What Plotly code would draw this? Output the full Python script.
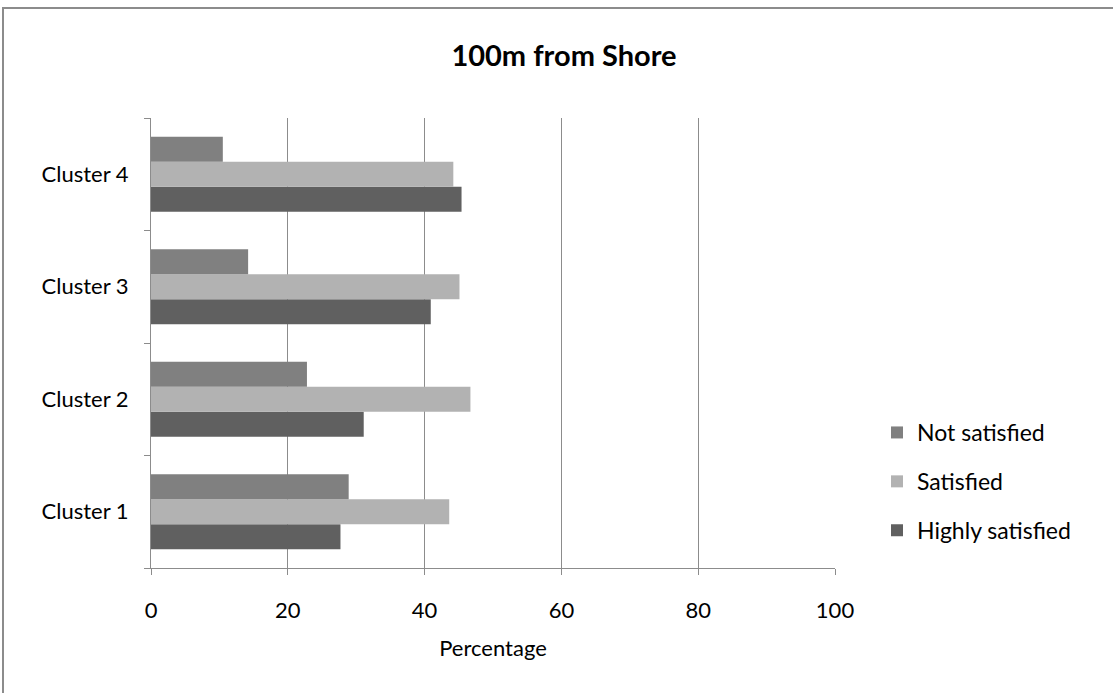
import plotly.graph_objects as go

# Survey response shares (%) by cluster, 100 m from shore
clusters = ["Cluster 1", "Cluster 2", "Cluster 3", "Cluster 4"]
highly_satisfied = [27.7, 31.1, 40.9, 45.4]
satisfied = [43.6, 46.7, 45.1, 44.2]
not_satisfied = [28.9, 22.8, 14.2, 10.5]

x_ticks = [0, 20, 40, 60, 80, 100]

# (name, values, colour, position in legend from top)
series = [
    ("Highly satisfied", highly_satisfied, "#606060", 3),
    ("Satisfied", satisfied, "#b2b2b2", 2),
    ("Not satisfied", not_satisfied, "#808080", 1),
]

FONT = "Lato, 'Open Sans', sans-serif"

fig = go.Figure()
for name, vals, color, rank in series:
    fig.add_trace(go.Bar(
        y=clusters, x=vals, name=name, orientation="h",
        marker=dict(color=color, line=dict(width=0)),
        legendgroup=name, legendrank=rank,
    ))

W, H = 1113, 693
L, R, T, B = 151, 278, 118, 125
pw, ph = W - L - R, H - T - B

def px_x(p):
    return (p - L) / pw

def px_y(p):
    return (H - B - p) / ph

fig.update_layout(
    width=W, height=H,
    margin=dict(l=L, r=R, t=T, b=B),
    paper_bgcolor="white", plot_bgcolor="white",
    barmode="group", bargap=0.333, bargroupgap=0,
    font=dict(family=FONT, size=22, color="#000000"),
    title=dict(text="<b>100m from Shore</b>", x=564 / W, xanchor="center",
               y=1 - 56 / H, yanchor="middle",
               font=dict(family=FONT, size=29, color="#000000")),
    xaxis=dict(range=[0, 100], tickvals=x_ticks, ticktext=[str(v) for v in x_ticks],
               showgrid=True, gridcolor="#8c8c8c", gridwidth=1,
               showline=True, linecolor="#8c8c8c", linewidth=1,
               ticks="outside", ticklen=6, tickcolor="#8c8c8c",
               zeroline=False, ticklabelstandoff=17,
               tickfont=dict(size=22),
               title=dict(text="Percentage", font=dict(size=22), standoff=18)),
    yaxis=dict(categoryorder="array", categoryarray=clusters,
               showline=True, linecolor="#8c8c8c", linewidth=1,
               ticks="outside", ticklen=6, tickcolor="#8c8c8c",
               tickson="boundaries", showgrid=False,
               tickfont=dict(size=22), ticklabelstandoff=17),
    legend=dict(x=px_x(877), y=px_y(411), xanchor="left", yanchor="top",
                traceorder="grouped", tracegroupgap=16,
                font=dict(size=23), itemwidth=30,
                bgcolor="rgba(0,0,0,0)"),
    showlegend=True,
)

# outer chart frame
fig.add_shape(type="rect", xref="paper", yref="paper",
              x0=px_x(3), x1=px_x(W + 10), y0=px_y(H + 10), y1=px_y(8),
              line=dict(color="#8c8c8c", width=2), fillcolor="rgba(0,0,0,0)",
              layer="below")

fig.write_html("out.html")
